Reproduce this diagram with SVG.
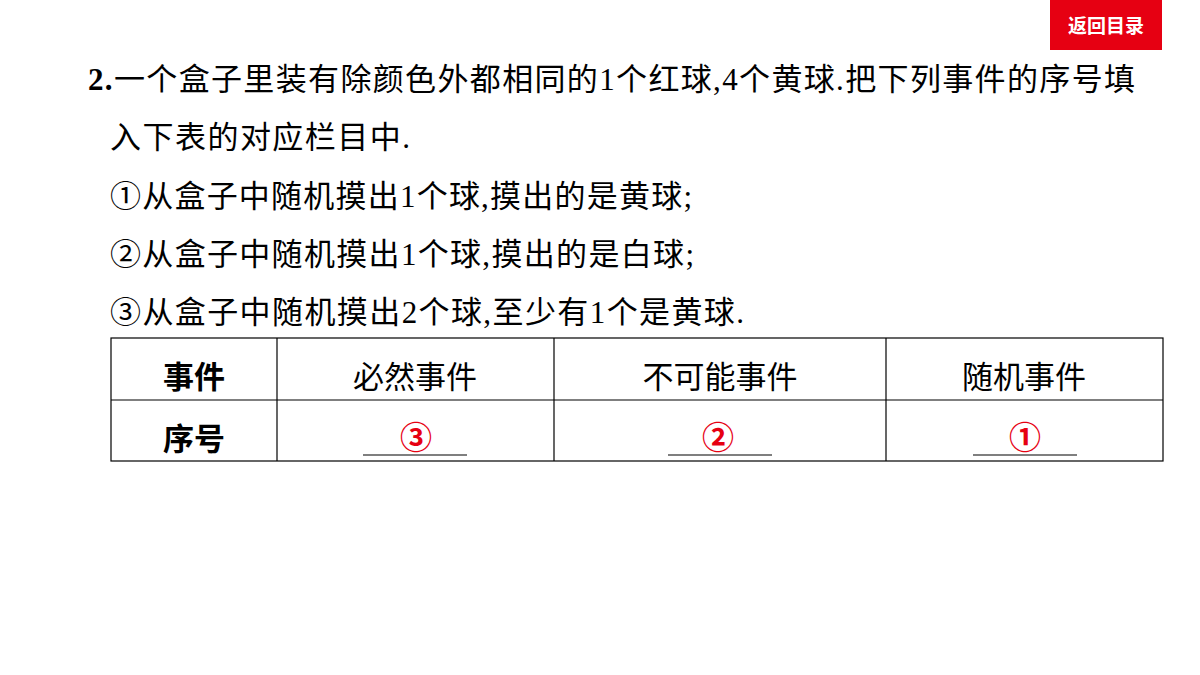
<svg xmlns="http://www.w3.org/2000/svg" width="1200" height="675" viewBox="0 0 1200 675">
<style>
.t{font-family:"Liberation Serif","Noto Sans CJK SC",serif;font-size:31px;fill:#000}
.c{font-family:"Liberation Sans","Noto Sans CJK SC",sans-serif;font-size:31px;fill:#000;text-anchor:middle}
.b{font-weight:bold}
.r{font-family:"Liberation Sans","Noto Sans CJK SC",sans-serif;font-size:32px;fill:#e60012;font-weight:bold;text-anchor:middle}
.ln{stroke:#000;stroke-width:1.2;fill:none}
</style>
<rect width="1200" height="675" fill="#fff"/>
<g id="back"><rect x="1050" y="0" width="112" height="50" fill="#e60012"/>
<text x="1106" y="33" font-family="Liberation Sans,'Noto Sans CJK SC',sans-serif" font-size="19" font-weight="bold" fill="#fff" text-anchor="middle">返回目录</text></g>
<g id="question">
<text class="t" x="88" y="90" textLength="1047"><tspan font-weight="bold">2.</tspan>一个盒子里装有除颜色外都相同的1个红球,4个黄球.把下列事件的序号填</text>
<text class="t" x="110" y="148" textLength="300">入下表的对应栏目中.</text>
<text class="t" x="110" y="207" textLength="582">①从盒子中随机摸出1个球,摸出的是黄球;</text>
<text class="t" x="110" y="265" textLength="584">②从盒子中随机摸出1个球,摸出的是白球;</text>
<text class="t" x="110" y="323" textLength="634">③从盒子中随机摸出2个球,至少有1个是黄球.</text>
</g>
<g id="table">
<rect class="ln" x="111" y="338" width="1052" height="123"/>
<line class="ln" x1="111" y1="400" x2="1163" y2="400"/>
<line class="ln" x1="277" y1="338" x2="277" y2="461"/>
<line class="ln" x1="554" y1="338" x2="554" y2="461"/>
<line class="ln" x1="886" y1="338" x2="886" y2="461"/>
<text class="c b" x="194" y="388">事件</text>
<text class="c" x="415" y="388">必然事件</text>
<text class="c" x="720" y="388">不可能事件</text>
<text class="c" x="1024" y="388">随机事件</text>
<text class="c b" x="194" y="450">序号</text>
<line class="ln" x1="363" y1="455" x2="467" y2="455"/>
<line class="ln" x1="668" y1="455" x2="772" y2="455"/>
<line class="ln" x1="973" y1="455" x2="1077" y2="455"/>
<text class="r" x="416" y="449">③</text>
<text class="r" x="718" y="449">②</text>
<text class="r" x="1025" y="449">①</text>
</g>
</svg>
